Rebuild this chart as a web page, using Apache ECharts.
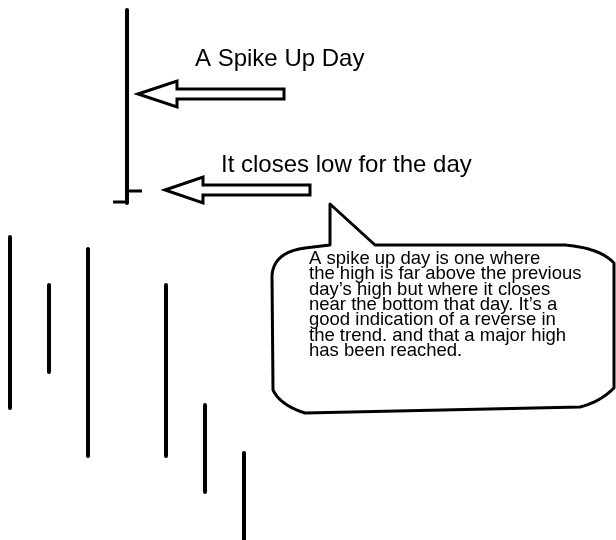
<!DOCTYPE html>
<html>
<head>
<meta charset="utf-8">
<script src="https://cdn.jsdelivr.net/npm/echarts@6/dist/echarts.min.js"></script>
<style>
  html, body { margin: 0; padding: 0; background: #fff; }
  #chart { width: 616px; height: 540px; }
</style>
</head>
<body>
<div id="chart"></div>
<script>
// price bars, one per day (the spike up day is day 3)
var days = [0, 1, 2, 3, 4, 5, 6];
var highs = [303, 255, 291, 530, 255, 135, 87];
var lows = [132, 168, 84, 337, 84, 48, 0];
var opens = [null, null, null, 338, null, null, null];
var closes = [null, null, null, 349, null, null, null];

var spikeLabel = 'A Spike Up Day';
var closeLabel = 'It closes low for the day';
var noteLines = [
  'A spike up day is one where',
  'the high is far above the previous',
  'day\u2019s high but where it closes',
  'near the bottom that day. It\u2019s a',
  'good indication of a reverse in',
  'the trend. and that a major high',
  'has been reached.'
];

var data = [];
days.forEach(function (d, i) {
  data.push([d, highs[i], lows[i], opens[i], closes[i]]);
});

var chart = echarts.init(document.getElementById('chart'));

function renderBar(params, api) {
  var x = api.value(0);
  var top = api.coord([x, api.value(1)]);
  var bottom = api.coord([x, api.value(2)]);
  var children = [{
    type: 'line',
    shape: { x1: top[0], y1: top[1], x2: bottom[0], y2: bottom[1] },
    style: { stroke: '#000', lineWidth: 4, lineCap: 'round' }
  }];
  var open = api.value(3);
  var close = api.value(4);
  if (open != null && !isNaN(open)) {
    var o = api.coord([x, open]);
    children.push({
      type: 'line',
      shape: { x1: o[0] - 14, y1: o[1], x2: o[0], y2: o[1] },
      style: { stroke: '#000', lineWidth: 3 }
    });
  }
  if (close != null && !isNaN(close)) {
    var c = api.coord([x, close]);
    children.push({
      type: 'line',
      shape: { x1: c[0], y1: c[1], x2: c[0] + 15, y2: c[1] },
      style: { stroke: '#000', lineWidth: 3 }
    });
  }
  return { type: 'group', children: children };
}

// arrow outline pointing left
function arrow(tipX, tipY, baseX, endX, headH, shaftH) {
  return {
    type: 'polygon',
    shape: {
      points: [
        [tipX, tipY],
        [baseX, tipY - headH],
        [baseX, tipY - shaftH],
        [endX, tipY - shaftH],
        [endX, tipY + shaftH],
        [baseX, tipY + shaftH],
        [baseX, tipY + headH]
      ]
    },
    style: { fill: '#fff', stroke: '#000', lineWidth: 3, lineJoin: 'miter' },
    z: 10
  };
}

// speech bubble outline: straight pieces plus quadratic corners
function bubblePoints() {
  var pts = [];
  function quad(p0, c, p1) {
    for (var t = 0.1; t <= 1.0001; t += 0.1) {
      var a = (1 - t) * (1 - t), b = 2 * (1 - t) * t, d = t * t;
      pts.push([a * p0[0] + b * c[0] + d * p1[0], a * p0[1] + b * c[1] + d * p1[1]]);
    }
  }
  pts.push([330, 204], [375, 245], [565, 245]);
  quad([565, 245], [600, 248], [614, 263]);
  pts.push([614, 388]);
  quad([614, 388], [600, 402], [580, 407]);
  pts.push([305, 413]);
  quad([305, 413], [280, 405], [273, 390]);
  pts.push([272, 275]);
  quad([272, 275], [274, 252], [305, 248]);
  pts.push([330, 245]);
  return pts;
}

var option = {
  animation: false,
  backgroundColor: '#fff',
  grid: { left: 10, right: 372, top: 0, bottom: 0 },
  xAxis: { type: 'value', min: 0, max: 6, show: false },
  yAxis: { type: 'value', min: 0, max: 540, show: false },
  series: [{
    type: 'custom',
    renderItem: renderBar,
    clip: false,
    encode: { x: 0, y: [1, 2] },
    data: data
  }],
  graphic: [
    arrow(138, 94, 177, 284, 13, 5),
    arrow(165, 190, 203, 310, 13, 5),
    {
      type: 'text',
      x: 195, y: 47,
      style: {
        text: spikeLabel,
        font: '24px "Liberation Sans", Arial, sans-serif',
        fill: '#000'
      }
    },
    {
      type: 'text',
      x: 221, y: 153,
      style: {
        text: closeLabel,
        font: '24px "Liberation Sans", Arial, sans-serif',
        fill: '#000'
      }
    },
    {
      type: 'polygon',
      shape: { points: bubblePoints() },
      style: { fill: '#fff', stroke: '#000', lineWidth: 3, lineJoin: 'round' },
      z: 10
    },
    {
      type: 'text',
      x: 309, y: 251,
      z: 11,
      style: {
        text: noteLines.join('\n'),
        font: '18.5px "Liberation Sans", Arial, sans-serif',
        lineHeight: 15.4,
        fill: '#000'
      }
    }
  ]
};

chart.setOption(option);
</script>
</body>
</html>
